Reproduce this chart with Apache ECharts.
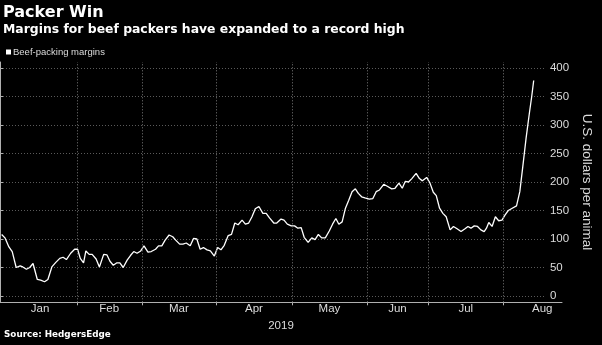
<!DOCTYPE html>
<html>
<head>
<meta charset="utf-8">
<script src="https://cdn.jsdelivr.net/npm/echarts@6/dist/echarts.min.js"></script>
<style>
html,body{margin:0;padding:0;background:#000;}
#chart{width:602px;height:345px;}
</style>
</head>
<body>
<div id="chart"></div>
<script>
const sessions = [
  0.5,1.5,2.7,3.7,4.9,6.1,6.9,8.0,9.0,10.0,11.3,12.3,13.5,14.5,15.7,16.9,18.1,19.1,20.1,21.4,22.6,23.5,24.3,25.3,26.0,27.0,27.9,29.1,
  30.1,31.4,32.4,33.3,34.3,35.3,36.3,37.3,38.5,39.5,40.5,41.5,42.6,43.6,44.8,45.8,47.1,48.0,49.0,50.0,51.2,52.3,53.2,54.4,55.4,56.4,
  57.6,58.6,59.6,60.6,61.6,62.7,63.7,64.9,65.9,66.9,67.9,69.1,70.1,71.1,72.1,73.3,74.3,75.3,76.3,77.3,78.4,79.6,80.6,81.6,82.9,83.8,85.1,
  86.0,87.0,88.2,89.2,90.2,91.2,92.1,93.3,94.4,95.4,96.4,97.4,98.5,99.7,100.7,101.7,102.6,103.6,104.6,105.6,106.6,107.6,108.5,109.5,110.5,111.8,112.9,
  113.9,114.9,116.2,117.4,118.6,119.6,120.8,121.8,122.7,123.7,124.7,126.0,127.0,127.9,129.2,130.2,131.2,132.1,133.1,134.1,135.1,136.3,137.3,138.4,139.6,140.8,
  141.7,142.6,143.6,144.6,145.6,146.6,147.3,148.0,149.0,150.0,151.0,152.0,152.9,153.9,155.1,156.4,157.4,158.3,159.3,160.3,161.0,161.6
];
// Beef-packing margins, U.S. dollars per animal
const margins = [
  108,102,86,78,50,53,51,47,50,57,29,28,25,29,51,59,66,68,64,75,82,82,66,58,79,73,73,65,
  51,73,72,61,54,58,58,50,63,71,78,75,79,88,77,78,82,88,88,98,107,104,98,91,91,93,
  88,101,100,82,85,81,79,70,85,81,89,106,108,128,125,133,126,128,139,153,157,145,145,137,128,128,135,
  133,126,123,123,119,120,103,94,102,99,108,102,102,114,126,136,126,130,154,168,183,188,180,174,172,170,171,
  183,186,196,192,188,189,198,189,201,200,206,215,206,202,208,198,182,176,154,145,139,116,122,118,113,118,
  122,119,123,122,116,113,119,129,122,139,132,133,142,150,154,158,183,227,277,321,350,378
];
// Month boundaries and month label positions (in sessions)
const monthBoundaries = [22.7,41.7,63.7,86.0,108.1,126.0,148.0];
const monthLabelPos = [11.8,32.1,52.6,74.7,96.9,116.9,137.0,159.5];
const monthNames = ['Jan','Feb','Mar','Apr','May','Jun','Jul','Aug'];
const xMax = 165.3;

const seriesData = sessions.map((s, i) => [s, margins[i]]);

const gridColor = '#5a5a5a';
const vGridColor = '#7a7a7a';
const axisColor = '#b0b0b0';
const labelColor = '#dcdcdc';

const chart = echarts.init(document.getElementById('chart'), null, {renderer: 'canvas'});
chart.setOption({
  backgroundColor: '#000',
  animation: false,
  title: [
    {text: 'Packer Win', left: 3, top: 5, padding: 0,
     textStyle: {color: '#fff', fontFamily: 'DejaVu Sans', fontWeight: 'bold', fontSize: 16}},
    {text: 'Margins for beef packers have expanded to a record high', left: 3, top: 24, padding: 0,
     textStyle: {color: '#fff', fontFamily: 'DejaVu Sans', fontWeight: 'bold', fontSize: 12.4}},
    {text: 'Source: HedgersEdge', left: 4, top: 330, padding: 0,
     textStyle: {color: '#fff', fontFamily: 'DejaVu Sans', fontWeight: 'bold', fontSize: 8.8}}
  ],
  legend: {
    data: ['Beef-packing margins'],
    left: 6, top: 47, padding: 0,
    icon: 'rect', itemWidth: 5, itemHeight: 5,
    textStyle: {color: labelColor, fontFamily: 'Liberation Sans', fontSize: 9.5, padding: [0,0,0,-3]}
  },
  grid: [
    {left: 0, right: 40, top: 68, bottom: 49},
    {left: 0, right: 40, top: 62, bottom: 42.7}
  ],
  xAxis: [
    {type: 'value', gridIndex: 0, min: 0, max: xMax, show: false},
    {type: 'value', gridIndex: 1, min: 0, max: xMax,
     axisLine: {show: true, lineStyle: {color: axisColor, width: 1}},
     axisTick: {show: true, customValues: monthBoundaries, length: 3, lineStyle: {color: axisColor, width: 1}},
     splitLine: {show: false},
     axisLabel: {show: true, customValues: monthLabelPos, margin: 1, color: labelColor,
       fontFamily: 'Liberation Sans', fontSize: 11.5,
       formatter: function (v) {
         let best = 0;
         for (let i = 0; i < monthLabelPos.length; i++) {
           if (Math.abs(monthLabelPos[i] - v) < Math.abs(monthLabelPos[best] - v)) best = i;
         }
         return monthNames[best];
       }},
     name: '2019', nameLocation: 'middle', nameGap: 11,
     nameTextStyle: {color: labelColor, fontFamily: 'Liberation Sans', fontSize: 11.5}
    }
  ],
  yAxis: [
    {type: 'value', gridIndex: 0, position: 'right', min: 0, max: 400, interval: 50,
     axisLine: {show: false},
     axisTick: {show: true, length: 3, lineStyle: {color: axisColor}},
     axisLabel: {show: true, margin: 4, color: labelColor, fontFamily: 'Liberation Sans', fontSize: 11.5},
     splitLine: {show: true, lineStyle: {color: gridColor, type: [1, 2], width: 1}},
     name: 'U.S. dollars per animal', nameLocation: 'middle', nameRotate: -90, nameGap: 31,
     nameTextStyle: {color: labelColor, fontFamily: 'Liberation Sans', fontSize: 13.5}
    },
    {type: 'value', gridIndex: 1, position: 'right', min: 0, max: 1,
     axisLine: {show: true, lineStyle: {color: axisColor, width: 1}},
     axisTick: {show: false}, axisLabel: {show: false}, splitLine: {show: false}}
  ],
  series: [
    {name: 'monthDividers', type: 'line', xAxisIndex: 1, yAxisIndex: 1,
     data: monthBoundaries.map(v => [v, 0]),
     silent: true, symbol: 'none', showSymbol: false,
     lineStyle: {opacity: 0}, itemStyle: {opacity: 0},
     markLine: {silent: true, symbol: ['none', 'none'], label: {show: false},
       animation: false,
       lineStyle: {color: vGridColor, type: [1, 2], width: 1, opacity: 1},
       emphasis: {disabled: true},
       data: monthBoundaries.map(v => [{coord: [v, 0]}, {coord: [v, 1]}])}},
    {name: 'Beef-packing margins', type: 'line', xAxisIndex: 0, yAxisIndex: 0,
     data: seriesData, showSymbol: false, symbol: 'none', smooth: false,
     lineStyle: {color: '#fff', width: 1.3}, itemStyle: {color: '#fff'}}
  ]
});
</script>
</body>
</html>
